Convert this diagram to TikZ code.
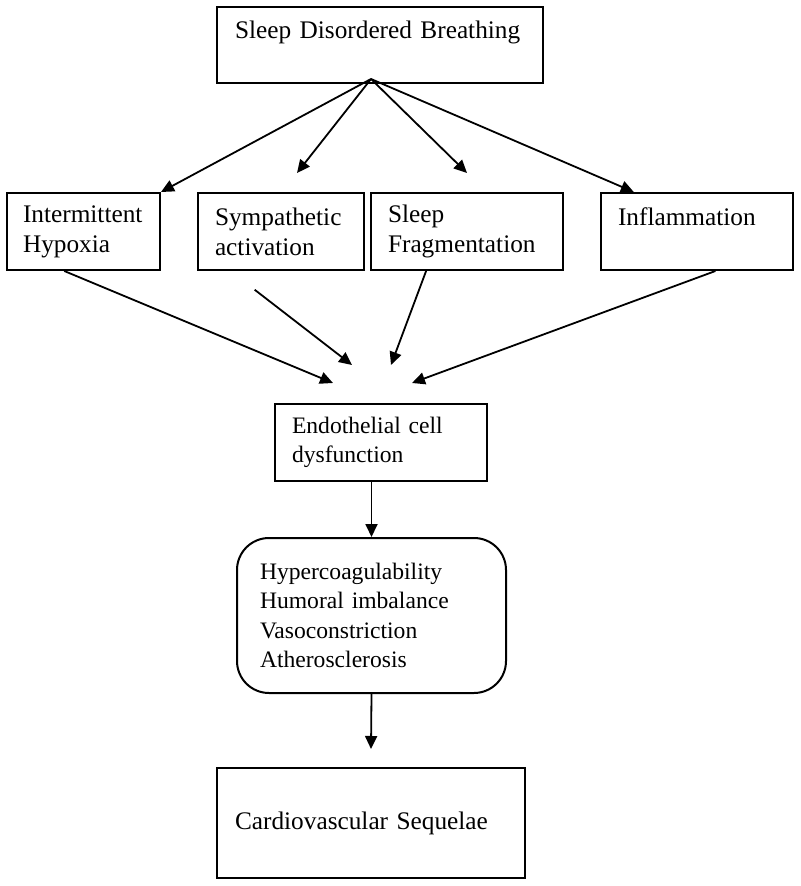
\documentclass[tikz,border=0pt]{standalone}
\usepackage{fontspec}
\setmainfont{Liberation Serif}
\usetikzlibrary{arrows.meta}

\tikzset{
  box/.style={draw, line width=1pt, inner sep=0pt, align=left},
  big/.style={font=\fontsize{12.65}{15}\selectfont},
  small/.style={font=\fontsize{11.8}{14.6}\selectfont},
  arr/.style={line width=0.9pt, -{Triangle[length=6.5pt,width=6pt]}}
}

\begin{document}
\begin{tikzpicture}[x=0.5pt,y=-0.5pt]
    \useasboundingbox (0,0) rectangle (800,886);

    %top box
    \node[box,big,minimum width=163pt,minimum height=38pt,text width=145pt] (sdb) at (380,45) {Sleep Disordered Breathing\\\mbox{}};

    %middle row
    \node[box,big,minimum width=76.5pt,minimum height=38.5pt,text width=60.5pt] (ih) at (83.5,231.5) {Intermittent\\Hypoxia};
    \node[box,big,minimum width=83pt,minimum height=38.5pt,text width=66pt] (sa) at (281,231.5) {Sympathetic\\activation};
    \node[box,big,minimum width=96pt,minimum height=38.5pt,text width=79pt] (sf) at (467,231.5) {Sleep\\Fragmentation};
    \node[box,big,minimum width=96pt,minimum height=38.5pt,text width=79pt] (inf) at (697,231.5) {Inflammation\\\mbox{}};

    %lower boxes
    \node[box,small,minimum width=106pt,minimum height=38.5pt,text width=89pt] (ecd) at (381,442.5) {Endothelial cell\\dysfunction};
    \node[box,small,rounded corners=16pt,minimum width=134.5pt,minimum height=77.5pt,text width=111.5pt] (mech) at (371.5,615.5) {Hypercoagulability\\Humoral imbalance\\Vasoconstriction\\Atherosclerosis};
    \node[box,big,minimum width=154pt,minimum height=55pt,text width=136pt] (cvs) at (371,823) {Cardiovascular Sequelae};

    %free ends of the arrows
    \coordinate (apex) at (371,79);
    \coordinate (satip) at (297,173);
    \coordinate (sftip) at (467,173);
    \coordinate (c1) at (333,383);
    \coordinate (c2) at (352,365);
    \coordinate (c3) at (391,365);
    \coordinate (c4) at (412,383);
    \coordinate (cvstip) at (371,749);

    %fan out from the top box
    \draw[arr] (apex) -- (ih.north east);
    \draw[arr] (apex) -- (satip);
    \draw[arr] (apex) -- (sftip);
    \draw[arr] (apex) -- (inf.148.2);

    %converge on the endothelial box
    \draw[arr] (ih.244.3) -- (c1);
    \draw[arr,shorten <=15.3pt] (sa.218.2) -- (c2);
    \draw[arr] (sf.224.6) -- (c3);
    \draw[arr] (inf.295.1) -- (c4);

    %down the column
    \draw[arr] (ecd.south -| mech.north) -- (mech.north);
    \draw[arr] (mech.south) -- (cvstip);
\end{tikzpicture}
\end{document}
